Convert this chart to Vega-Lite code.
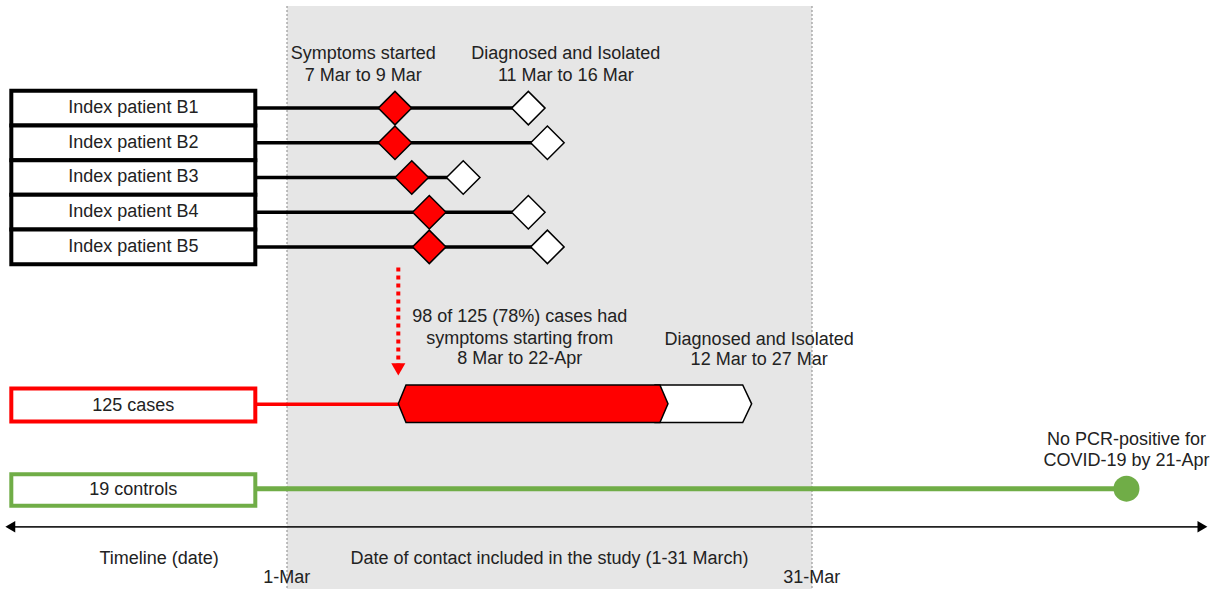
{
  "$schema": "https://vega.github.io/schema/vega-lite/v6.json",
  "autosize": {"type": "fit", "contains": "padding"},
  "width": 1220,
  "height": 590,
  "padding": 0,
  "background": "white",
  "view": {"stroke": null},
  "config": {"text": {"font": "Liberation Sans", "fontSize": 18, "color": "#222222"}},
  "datasets": {
    "study": [{"x": 1, "x2": 31, "y": -1.944, "y2": 14.862}],
    "bounds": [{"x": 1, "y": -1.944, "y2": 14.862}, {"x": 31, "y": -1.944, "y2": 14.862}],
    "patients": [
      {"label": "Index patient B1", "x": -14.754, "x2": -0.811, "xt": -7.78, "y": 1, "ytop": 0.5, "ybot": 1.5, "onset": 7.17, "iso": 14.79},
      {"label": "Index patient B2", "x": -14.754, "x2": -0.811, "xt": -7.78, "y": 2, "ytop": 1.5, "ybot": 2.5, "onset": 7.17, "iso": 15.88},
      {"label": "Index patient B3", "x": -14.754, "x2": -0.811, "xt": -7.78, "y": 3, "ytop": 2.5, "ybot": 3.5, "onset": 8.13, "iso": 11.07},
      {"label": "Index patient B4", "x": -14.754, "x2": -0.811, "xt": -7.78, "y": 4, "ytop": 3.5, "ybot": 4.5, "onset": 9.13, "iso": 14.79},
      {"label": "Index patient B5", "x": -14.754, "x2": -0.811, "xt": -7.78, "y": 5, "ytop": 4.5, "ybot": 5.5, "onset": 9.13, "iso": 15.88}
    ],
    "groups": [
      {"label": "125 cases", "x": -14.754, "x2": -0.811, "xt": -7.78, "y": 9.081, "y2": 10.036, "yt": 9.594, "group": "cases"},
      {"label": "19 controls", "x": -14.754, "x2": -0.811, "xt": -7.78, "y": 11.553, "y2": 12.462, "yt": 12.013, "group": "controls"}
    ],
    "caseLine": [{"x": -0.811, "x2": 7.36, "y": 9.538}],
    "controlLine": [{"x": -0.811, "x2": 48.97, "y": 11.97}],
    "controlEnd": [{"x": 48.97, "y": 11.97}],
    "casesWhite": [
      {"x": 22.03, "y": 8.983, "y2": 10.065},
      {"x": 27.04, "y": 8.983, "y2": 10.065},
      {"x": 27.55, "y": 9.524, "y2": 9.524}
    ],
    "casesRed": [
      {"x": 7.36, "y": 9.524, "y2": 9.524},
      {"x": 7.8, "y": 8.983, "y2": 10.065},
      {"x": 22.31, "y": 8.983, "y2": 10.065},
      {"x": 22.77, "y": 9.524, "y2": 9.524}
    ],
    "arrowShaft": [{"x": 7.36, "y": 5.596, "y2": 8.387}],
    "arrowHead": [{"x": 7.36, "y": 8.531}],
    "timeline": [{"x": -14.94, "x2": 53.4, "y": 13.069}],
    "timelineHeads": [
      {"x": -14.81, "y": 13.069, "dir": "left"},
      {"x": 53.31, "y": 13.069, "dir": "right"}
    ],
    "labels": [
      {"x": 5.36, "y": -0.554, "text": "Symptoms started"},
      {"x": 5.36, "y": 0.0705, "text": "7 Mar to 9 Mar"},
      {"x": 16.93, "y": -0.554, "text": "Diagnosed and Isolated"},
      {"x": 16.93, "y": 0.0705, "text": "11 Mar to 16 Mar"},
      {"x": 14.3, "y": 7.014, "text": "98 of 125 (78%) cases had"},
      {"x": 14.3, "y": 7.647, "text": "symptoms starting from"},
      {"x": 14.3, "y": 8.243, "text": "8 Mar to 22-Apr"},
      {"x": 27.98, "y": 7.676, "text": "Diagnosed and Isolated"},
      {"x": 27.98, "y": 8.263, "text": "12 Mar to 27 Mar"},
      {"x": 48.97, "y": 10.574, "text": "No PCR-positive for"},
      {"x": 48.97, "y": 11.17, "text": "COVID-19 by 21-Apr"},
      {"x": -6.31, "y": 13.999, "text": "Timeline (date)"},
      {"x": 16.0, "y": 13.999, "text": "Date of contact included in the study (1-31 March)"},
      {"x": 0.98, "y": 14.554, "text": "1-Mar"},
      {"x": 30.98, "y": 14.554, "text": "31-Mar"}
    ]
  },
  "encoding": {
    "x": {"field": "x", "type": "quantitative", "scale": {"domain": [-15.4, 54.314], "nice": false, "zero": false}, "axis": null},
    "y": {"field": "y", "type": "quantitative", "scale": {"domain": [-2.1165, 14.862], "nice": false, "zero": false, "reverse": true}, "axis": null}
  },
  "layer": [
    {"data": {"name": "study"}, "mark": {"type": "rect", "fill": "#e6e6e6"},
     "encoding": {"x2": {"field": "x2"}, "y2": {"field": "y2"}}},
    {"data": {"name": "bounds"}, "mark": {"type": "rule", "stroke": "#9a9a9a", "strokeWidth": 1.2, "strokeDash": [2, 2]},
     "encoding": {"y2": {"field": "y2"}}},
    {"data": {"name": "timeline"}, "mark": {"type": "rule", "stroke": "#222222", "strokeWidth": 1.8},
     "encoding": {"x2": {"field": "x2"}}},
    {"data": {"name": "timelineHeads"}, "mark": {"type": "point", "filled": true, "fill": "#000000", "strokeWidth": 0, "size": 130, "opacity": 1},
     "encoding": {"shape": {"field": "dir", "type": "nominal", "scale": {"domain": ["left", "right"], "range": ["triangle-left", "triangle-right"]}, "legend": null}}},
    {"data": {"name": "patients"}, "mark": {"type": "rule", "stroke": "#000000", "strokeWidth": 3.5},
     "encoding": {"x": {"field": "x2", "type": "quantitative"}, "x2": {"field": "iso"}}},
    {"data": {"name": "patients"}, "mark": {"type": "rect", "fill": "white", "stroke": "#000000", "strokeWidth": 4},
     "encoding": {"x2": {"field": "x2"}, "y": {"field": "ytop", "type": "quantitative"}, "y2": {"field": "ybot"}}},
    {"data": {"name": "patients"}, "mark": {"type": "text", "align": "center", "baseline": "middle"},
     "encoding": {"x": {"field": "xt", "type": "quantitative"}, "text": {"field": "label"}}},
    {"data": {"name": "patients"}, "mark": {"type": "point", "shape": "diamond", "filled": true, "fill": "white", "stroke": "#000000", "strokeWidth": 1.5, "size": 1120, "opacity": 1},
     "encoding": {"x": {"field": "iso", "type": "quantitative"}}},
    {"data": {"name": "patients"}, "mark": {"type": "point", "shape": "diamond", "filled": true, "fill": "#ff0000", "stroke": "#000000", "strokeWidth": 1.5, "size": 1120, "opacity": 1},
     "encoding": {"x": {"field": "onset", "type": "quantitative"}}},
    {"data": {"name": "arrowShaft"}, "mark": {"type": "rule", "stroke": "#ff0000", "strokeWidth": 4, "strokeDash": [4, 4]},
     "encoding": {"y2": {"field": "y2"}}},
    {"data": {"name": "arrowHead"}, "mark": {"type": "point", "shape": "triangle-down", "filled": true, "fill": "#ff0000", "strokeWidth": 0, "size": 200, "opacity": 1},
     "encoding": {}},
    {"data": {"name": "caseLine"}, "mark": {"type": "rule", "stroke": "#ff0000", "strokeWidth": 3.5},
     "encoding": {"x2": {"field": "x2"}}},
    {"data": {"name": "controlLine"}, "mark": {"type": "rule", "stroke": "#70ad47", "strokeWidth": 5},
     "encoding": {"x2": {"field": "x2"}}},
    {"data": {"name": "controlEnd"}, "mark": {"type": "point", "shape": "circle", "filled": true, "fill": "#70ad47", "strokeWidth": 0, "size": 675, "opacity": 1},
     "encoding": {}},
    {"data": {"name": "groups"}, "mark": {"type": "rect", "fill": "white", "strokeWidth": 4},
     "encoding": {"x2": {"field": "x2"}, "y2": {"field": "y2"},
       "stroke": {"field": "group", "type": "nominal", "scale": {"domain": ["cases", "controls"], "range": ["#ff0000", "#70ad47"]}, "legend": null}}},
    {"data": {"name": "groups"}, "mark": {"type": "text", "align": "center", "baseline": "middle"},
     "encoding": {"x": {"field": "xt", "type": "quantitative"}, "y": {"field": "yt", "type": "quantitative"}, "text": {"field": "label"}}},
    {"data": {"name": "casesWhite"}, "mark": {"type": "area", "orient": "vertical", "fill": "white", "stroke": "#000000", "strokeWidth": 1.5, "interpolate": "linear"},
     "encoding": {"y2": {"field": "y2"}}},
    {"data": {"name": "casesRed"}, "mark": {"type": "area", "orient": "vertical", "fill": "#ff0000", "stroke": "#000000", "strokeWidth": 1.5, "interpolate": "linear"},
     "encoding": {"y2": {"field": "y2"}}},
    {"data": {"name": "labels"}, "mark": {"type": "text", "align": "center", "baseline": "middle"},
     "encoding": {"text": {"field": "text"}}}
  ]
}
